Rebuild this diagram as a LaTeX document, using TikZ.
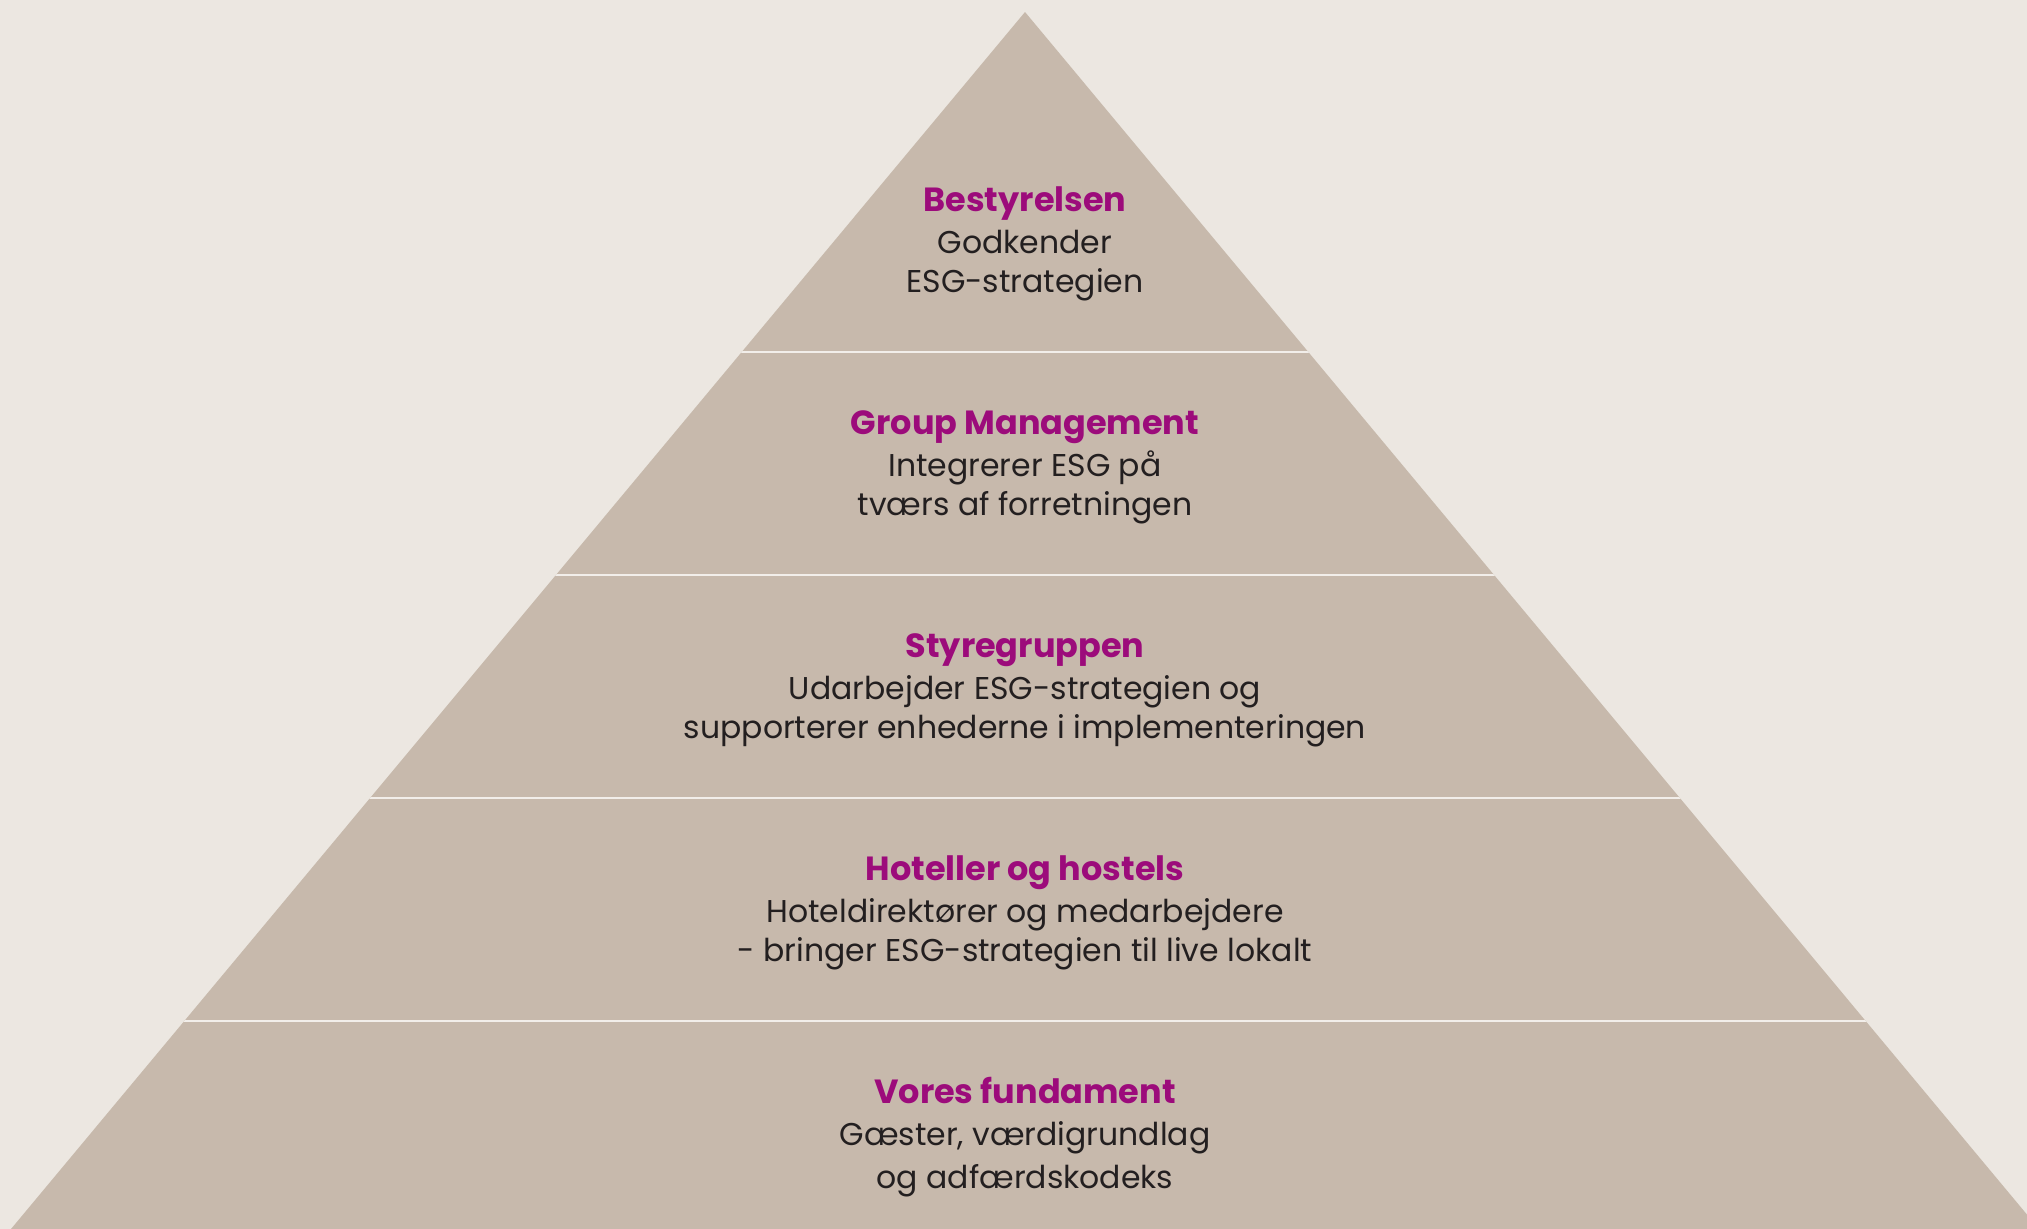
\documentclass[tikz,border=0pt]{standalone}
\usepackage{fontspec}
\setmainfont{Poppins}
\definecolor{bgcol}{HTML}{ECE7E1}
\definecolor{pyrcol}{HTML}{C7B9AC}
\definecolor{titlecol}{HTML}{9C0B7B}
\definecolor{bodycol}{HTML}{231F20}
\definecolor{linecol}{HTML}{F2EEEA}
\tikzset{
  tiertitle/.style={anchor=base, inner sep=0pt, text=titlecol, font=\fontsize{33.5}{38}\selectfont\bfseries},
  tierbody/.style={anchor=base, inner sep=0pt, text=bodycol, font=\fontsize{31.5}{38}\selectfont},
  divider/.style={draw=linecol, line width=1.6pt}
}
\begin{document}
\begin{tikzpicture}[x=1pt,y=-1pt]
\useasboundingbox (0,0) rectangle (2027,1229);
\fill[bgcol] (0,0) rectangle (2027,1229);
\begin{scope}
\clip (0,0) rectangle (2027,1229);
\fill[pyrcol] (1025,12) -- (2039,1229) -- (11,1229) -- cycle;
\clip (1025,12) -- (2039,1229) -- (11,1229) -- cycle;
\foreach \yy in {352,575,798,1021} {
  \draw[divider] (0,\yy) -- (2027,\yy);
}
\end{scope}
% tier 1
\node[tiertitle] (t1) at (1025,211) {Bestyrelsen};
\node[tierbody] (t1a) at (1025,253) {Godkender};
\node[tierbody] (t1b) at (1025,292) {ESG-strategien};
% tier 2
\node[tiertitle] (t2) at (1025,434) {Group Management};
\node[tierbody] (t2a) at (1025,476) {Integrerer ESG på};
\node[tierbody] (t2b) at (1025,515) {tværs af forretningen};
% tier 3
\node[tiertitle] (t3) at (1025,657) {Styregruppen};
\node[tierbody] (t3a) at (1025,699) {Udarbejder ESG-strategien og};
\node[tierbody] (t3b) at (1025,738) {supporterer enhederne i implementeringen};
% tier 4
\node[tiertitle] (t4) at (1025,880) {Hoteller og hostels};
\node[tierbody] (t4a) at (1025,922) {Hoteldirektører og medarbejdere};
\node[tierbody] (t4b) at (1025,961) {- bringer ESG-strategien til live lokalt};
% tier 5
\node[tiertitle] (t5) at (1025,1103) {Vores fundament};
\node[tierbody] (t5a) at (1025,1145) {Gæster, værdigrundlag};
\node[tierbody] (t5b) at (1025,1188) {og adfærdskodeks};
\end{tikzpicture}
\end{document}
